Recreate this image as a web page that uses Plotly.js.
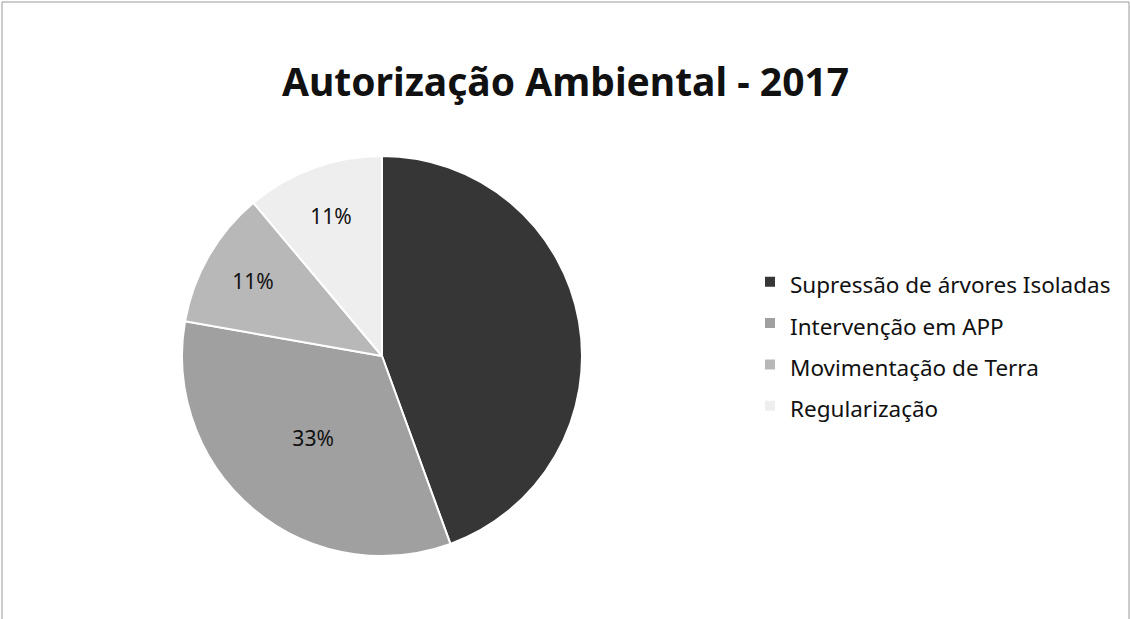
<!DOCTYPE html>
<html>
<head>
<meta charset="utf-8">
<script src="https://cdn.plot.ly/plotly-3.0.1.min.js"></script>
<style>
html,body{margin:0;padding:0;background:#fff;}
#chart{width:1131px;height:619px;}
</style>
</head>
<body>
<div id="chart"></div>
<script>
// Data
var categories = ["Supressão de árvores Isoladas", "Intervenção em APP", "Movimentação de Terra", "Regularização"];
var counts = [4, 3, 1, 1];
var sliceColors = ["#363636", "#a0a0a0", "#b8b8b8", "#eeeeee"];
var labelColors = ["#363636", "#111111", "#111111", "#111111"];
var chartTitle = "Autorização Ambiental - 2017";

var W = 1131, H = 619;
var FONT = "Noto Sans, Open Sans, DejaVu Sans, sans-serif";

// legend entries: text drawn at 22.5px while row spacing follows the legend font
var legendLabels = categories.map(function (c) {
  return '<span style="font-size:22.5px">' + c + '</span>';
});

var trace = {
  type: "pie",
  labels: legendLabels,
  values: counts,
  sort: false,
  direction: "clockwise",
  rotation: 0,
  marker: {colors: sliceColors, line: {color: "#ffffff", width: 2}},
  textinfo: "percent",
  texttemplate: "%{percent:.0%}",
  textposition: "inside",
  insidetextorientation: "horizontal",
  textfont: {family: FONT, size: 21, color: labelColors},
  hoverinfo: "percent",
  domain: {x: [182 / W, 582 / W], y: [63 / H, 463 / H]},
  showlegend: true
};

var layout = {
  width: W, height: H,
  margin: {l: 0, r: 0, t: 0, b: 0},
  paper_bgcolor: "#ffffff",
  plot_bgcolor: "#ffffff",
  font: {family: FONT, color: "#111111"},
  title: {
    text: "<b>" + chartTitle + "</b>",
    font: {family: FONT, size: 39, color: "#111111"},
    x: 0.5, xanchor: "center",
    y: 1 - 82 / H, yanchor: "middle"
  },
  legend: {
    x: 750 / W, xanchor: "left",
    y: 1 - 256 / H, yanchor: "top",
    font: {family: FONT, size: 29.5, color: "#111111"},
    bgcolor: "rgba(0,0,0,0)",
    itemclick: false
  },
  shapes: [{
    type: "path", xref: "paper", yref: "paper",
    path: "M " + (2 / W) + " 0 L " + (2 / W) + " " + (1 - 2 / H) + " L " + (1 - 2 / W) + " " + (1 - 2 / H) + " L " + (1 - 2 / W) + " 0",
    line: {color: "#9a9a9a", width: 1}
  }]
};

Plotly.newPlot("chart", [trace], layout, {displayModeBar: false, staticPlot: true});
</script>
</body>
</html>
